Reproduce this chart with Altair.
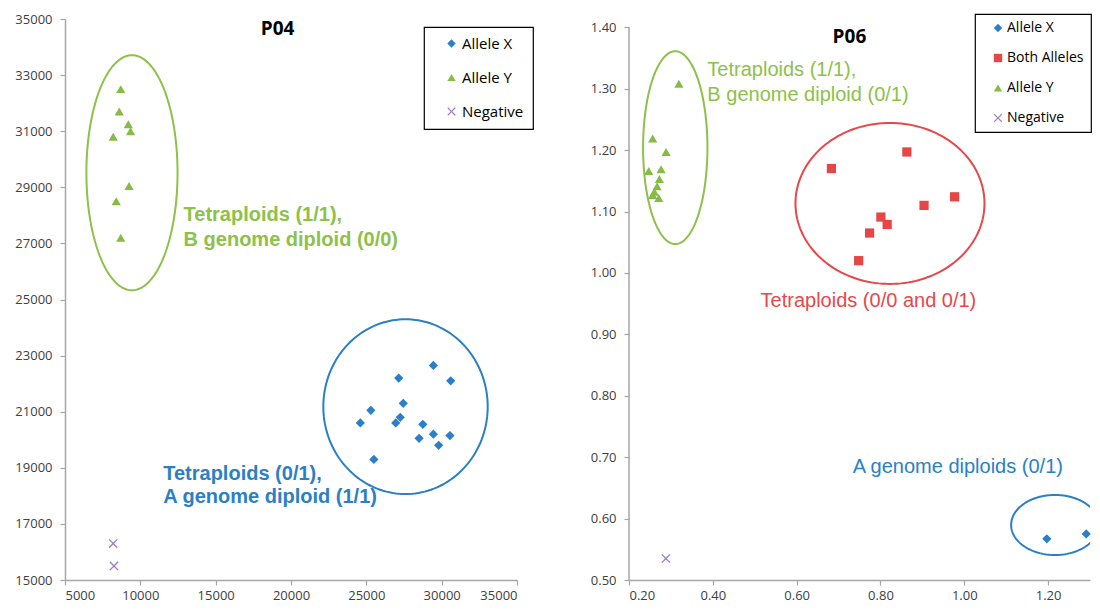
import altair as alt
import numpy as np
import pandas as pd

# ---------------- P04 (left panel) ----------------
p04_series = ["Allele X", "Allele Y", "Negative"]
p04_allele_x_x = [24600, 25300, 25500, 26950, 27250, 27150, 27450, 28750, 28500, 29450, 29450, 29800, 30600, 30550]
p04_allele_x_y = [20600, 21050, 19300, 20600, 20800, 22200, 21300, 20550, 20050, 22650, 20200, 19800, 22100, 20150]
p04_allele_y_x = [8700, 8600, 9200, 9350, 8200, 9250, 8400, 8700]
p04_allele_y_y = [32500, 31700, 31250, 31000, 30800, 29050, 28500, 27200]
p04_negative_x = [8200, 8250]
p04_negative_y = [16300, 15500]
p04_x_ticks = [5000, 10000, 15000, 20000, 25000, 30000, 35000]
p04_y_ticks = [15000, 17000, 19000, 21000, 23000, 25000, 27000, 29000, 31000, 33000, 35000]

# ---------------- P06 (right panel) ----------------
p06_series = ["Allele X", "Both Alleles", "Allele Y", "Negative"]
p06_allele_x_x = [1.197, 1.291]
p06_allele_x_y = [0.567, 0.575]
p06_both_x = [0.683, 0.863, 0.977, 0.904, 0.801, 0.816, 0.774, 0.748]
p06_both_y = [1.170, 1.197, 1.124, 1.110, 1.091, 1.079, 1.065, 1.020]
p06_allele_y_x = [0.319, 0.2565, 0.2885, 0.247, 0.2765, 0.2725, 0.267, 0.2606, 0.2565, 0.271]
p06_allele_y_y = [1.308, 1.219, 1.197, 1.166, 1.169, 1.153, 1.141, 1.132, 1.127, 1.122]
p06_negative_x = [0.288]
p06_negative_y = [0.535]
p06_x_ticks = [0.2, 0.4, 0.6, 0.8, 1.0, 1.2]
p06_y_ticks = [0.5, 0.6, 0.7, 0.8, 0.9, 1.0, 1.1, 1.2, 1.3, 1.4]

# ---------------- cluster ellipses: centre x, centre y, half-width, half-height ----------------
p04_ellipses = {
    "green": (9445, 29520, 3025, 4190),
    "blue": (27600, 21180, 5455, 3115),
}
p06_ellipses = {
    "green": (0.3104, 1.204, 0.0768, 0.157),
    "red": (0.8227, 1.1132, 0.2255, 0.1311),
    "blue": (1.2165, 0.5896, 0.1047, 0.0489),
}

# ---------------- annotation texts ----------------
p04_notes = {
    "green": [("Tetraploids (1/1),", 12870, 28000), ("B genome diploid (0/0)", 12870, 27110)],
    "blue": [("Tetraploids (0/1),", 11520, 18790), ("A genome diploid (1/1)", 11520, 17950)],
}
p06_notes = {
    "green": [("Tetraploids (1/1),", 0.387, 1.331), ("B genome diploid (0/1)", 0.387, 1.290)],
    "red": [("Tetraploids (0/0 and 0/1)", 0.514, 0.954)],
    "blue": [("A genome diploids (0/1)", 0.734, 0.684)],
}
p04_title = ("P04", 19110, 34645)
p06_title = ("P06", 0.726, 1.384)

# ---------------- styles ----------------
BLUE = "#2A7FC9"
GREEN = "#86BC44"
RED = "#E64646"
PURPLE = "#A07CC4"
LINE_COLORS = {"green": "#8DC149", "blue": "#2B80C5", "red": "#E8474A"}
X_PATH = "M-1,-0.8L-0.8,-1L0,-0.2L0.8,-1L1,-0.8L0.2,0L1,0.8L0.8,1L0,0.2L-0.8,1L-1,0.8L-0.2,0Z"
AXIS_GRAY = "#A6A6A6"
TEXT_FONT = "Liberation Sans"
TICK_FONT = "Open Sans"


def points_df(items):
    rows = []
    for name, xs, ys in items:
        rows += [{"x": a, "y": b, "series": name} for a, b in zip(xs, ys)]
    return pd.DataFrame(rows)


def ellipse_df(cx, cy, rx, ry, n=160):
    t = np.linspace(0, 2 * np.pi, n + 1)
    return pd.DataFrame({"x": cx + rx * np.cos(t), "y": cy + ry * np.sin(t), "i": np.arange(n + 1)})


def panel(df, series, colors, shapes, xs, ys, xdom, ydom, xfmt, yfmt, ellipses, notes,
          title, bold, width, height, legend, y_domain_line=True):
    xaxis = alt.Axis(values=xs, format=xfmt, title=None)
    yaxis = alt.Axis(values=ys, format=yfmt, title=None, domain=y_domain_line)
    X = alt.X("x:Q", scale=alt.Scale(domain=xdom, nice=False, zero=False), axis=xaxis)
    Y = alt.Y("y:Q", scale=alt.Scale(domain=ydom, nice=False, zero=False), axis=yaxis)

    layers = []
    for key, (cx, cy, rx, ry) in ellipses.items():
        layers.append(
            alt.Chart(ellipse_df(cx, cy, rx, ry))
            .mark_line(color=LINE_COLORS[key], strokeWidth=2, clip=True)
            .encode(x=X, y=Y, order="i:Q")
        )
    if not y_domain_line:
        rule_df = pd.DataFrame({"x": [xdom[0]], "y": [ys[0]], "y2": [ys[-1]]})
        layers.append(
            alt.Chart(rule_df).mark_rule(color=AXIS_GRAY, strokeWidth=1.5)
            .encode(x=X, y=Y, y2="y2:Q")
        )
    layers.append(
        alt.Chart(df)
        .mark_point(filled=True, size=85, opacity=1, strokeWidth=0)
        .encode(
            x=X,
            y=Y,
            color=alt.Color("series:N", scale=alt.Scale(domain=series, range=colors), legend=legend),
            shape=alt.Shape("series:N", scale=alt.Scale(domain=series, range=shapes), legend=legend),
        )
    )
    for key, lines in notes.items():
        ndf = pd.DataFrame([{"text": t, "x": a, "y": b} for t, a, b in lines])
        layers.append(
            alt.Chart(ndf)
            .mark_text(align="left", baseline="middle", font=TEXT_FONT, fontSize=20,
                       fontWeight="bold" if bold else "normal", color=LINE_COLORS[key])
            .encode(x=X, y=Y, text="text:N")
        )
    tdf = pd.DataFrame([{"text": title[0], "x": title[1], "y": title[2]}])
    layers.append(
        alt.Chart(tdf)
        .mark_text(align="center", baseline="middle", font=TICK_FONT, fontSize=19,
                   fontWeight="bold", color="black")
        .encode(x=X, y=Y, text="text:N")
    )
    return alt.layer(*layers).properties(width=width, height=height)


p04_df = points_df([
    ("Allele X", p04_allele_x_x, p04_allele_x_y),
    ("Allele Y", p04_allele_y_x, p04_allele_y_y),
    ("Negative", p04_negative_x, p04_negative_y),
])
p06_df = points_df([
    ("Allele X", p06_allele_x_x, p06_allele_x_y),
    ("Both Alleles", p06_both_x, p06_both_y),
    ("Allele Y", p06_allele_y_x, p06_allele_y_y),
    ("Negative", p06_negative_x, p06_negative_y),
])

PLOT_H = 561

left_legend = alt.Legend(
    title=None, orient="none", legendX=359, legendY=8, strokeColor="black", padding=9,
    rowPadding=18, symbolOffset=11, labelOffset=3, labelFont=TICK_FONT, labelFontSize=15,
    labelColor="black", symbolSize=70, symbolStrokeWidth=0,
)
right_legend = alt.Legend(
    title=None, orient="none", legendX=346, legendY=-5, strokeColor="black", padding=7,
    rowPadding=16, symbolOffset=9, labelOffset=2, labelFont=TICK_FONT, labelFontSize=14,
    labelColor="black", symbolSize=70, symbolStrokeWidth=0,
)

left = panel(
    p04_df, p04_series, [BLUE, GREEN, PURPLE], ["diamond", "triangle-up", X_PATH],
    p04_x_ticks, p04_y_ticks, [5000, 35000], [15000, 35000], "d", "d",
    p04_ellipses, p04_notes, p04_title, True, 452, PLOT_H, left_legend,
)
right = panel(
    p06_df, p06_series, [BLUE, RED, GREEN, PURPLE], ["diamond", "square", "triangle-up", X_PATH],
    p06_x_ticks, p06_y_ticks, [0.2, 1.3], [0.5, 1.4135], ".2f", ".2f",
    p06_ellipses, p06_notes, p06_title, False, 461, PLOT_H, right_legend, y_domain_line=False,
)

chart = (
    alt.hconcat(left, right, spacing=112, bounds="flush")
    .resolve_scale(x="independent", y="independent", color="independent", shape="independent")
    .properties(padding={"left": 6, "top": 5, "right": 0, "bottom": 0})
    .configure_view(stroke=None)
    .configure_axis(
        grid=False, domainColor=AXIS_GRAY, domainWidth=1.5, tickColor=AXIS_GRAY, tickWidth=1.2,
        tickSize=5, labelFont=TICK_FONT, labelFontSize=13, labelColor="#404040", labelPadding=4,
    )
    .configure_axisY(labelPadding=8)
    .configure_legend(strokeWidth=1.2)
)

chart.save("out.html", embed_options={"renderer": "svg", "actions": False})
